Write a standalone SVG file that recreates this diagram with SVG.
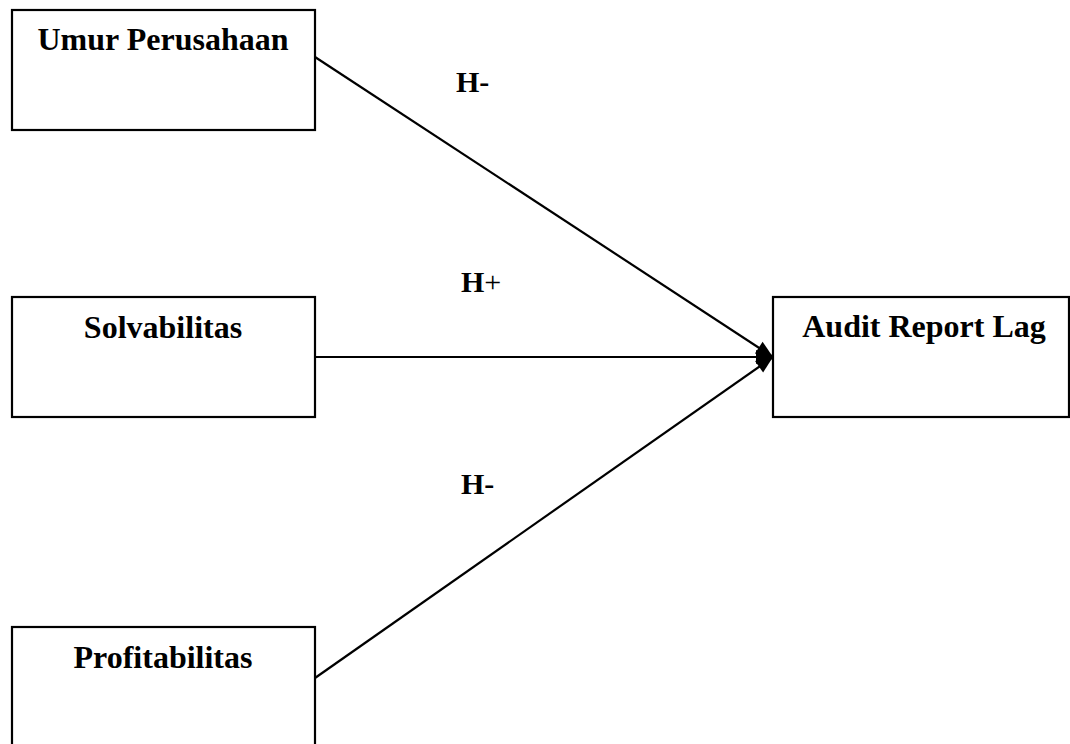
<svg xmlns="http://www.w3.org/2000/svg" width="1070" height="744" viewBox="0 0 1070 744">
<defs>
<style>
.box{fill:#fff;stroke:#000;stroke-width:2.2}
.lbl{font-family:"Liberation Serif","Times New Roman",serif;font-weight:bold;font-size:32px;fill:#000;text-anchor:middle}
.h{font-family:"Liberation Serif","Times New Roman",serif;font-weight:bold;font-size:30px;fill:#000}
.conn{stroke:#000;stroke-width:2.2;fill:none;marker-end:url(#arr)}
</style>
<marker id="arr" markerUnits="userSpaceOnUse" markerWidth="20" markerHeight="20" viewBox="0 0 20 20" refX="18" refY="10" orient="auto">
<path d="M1,3 L18,10 L1,17 z" fill="#000"/>
</marker>
</defs>
<rect width="1070" height="744" fill="#fff"/>
<g id="connectors">
<line class="conn" x1="315" y1="57" x2="773" y2="357"/>
<line class="conn" x1="315" y1="357" x2="773" y2="357"/>
<line class="conn" x1="315" y1="678" x2="773" y2="357"/>
</g>
<g id="node-umur">
<rect class="box" x="12" y="10" width="303" height="120"/>
<text class="lbl" x="163" y="50">Umur Perusahaan</text>
</g>
<g id="node-solv">
<rect class="box" x="12" y="297" width="303" height="120"/>
<text class="lbl" x="163" y="338">Solvabilitas</text>
</g>
<g id="node-prof">
<rect class="box" x="12" y="627" width="303" height="130"/>
<text class="lbl" x="163" y="668">Profitabilitas</text>
</g>
<g id="node-arl">
<rect class="box" x="773" y="297" width="296" height="120"/>
<text class="lbl" x="924" y="337">Audit Report Lag</text>
</g>
<g id="labels">
<text class="h" x="456" y="92">H-</text>
<text class="h" x="461" y="292">H<tspan font-weight="normal">+</tspan></text>
<text class="h" x="461" y="494">H-</text>
</g>
</svg>
